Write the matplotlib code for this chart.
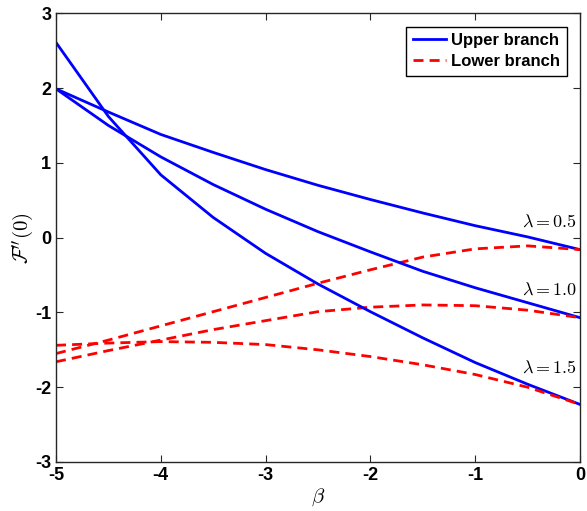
import numpy as np
import matplotlib
matplotlib.use("Agg")
import matplotlib.pyplot as plt

plt.rcParams['font.family'] = ['Liberation Sans', 'DejaVu Sans']
plt.rcParams['mathtext.fontset'] = 'cm'

beta = [-5, -4.5, -4, -3.5, -3, -2.5, -2, -1.5, -1, -0.5, 0]

# upper branch (solid blue)
upper_05 = [1.99, 1.68, 1.38, 1.14, 0.91, 0.70, 0.51, 0.33, 0.16, 0.01, -0.16]
upper_10 = [1.99, 1.50, 1.08, 0.71, 0.38, 0.08, -0.19, -0.45, -0.67, -0.87, -1.07]
upper_15 = [2.61, 1.62, 0.84, 0.27, -0.21, -0.62, -0.99, -1.34, -1.67, -1.96, -2.23]

# lower branch (dashed red)
lower_05 = [-1.55, -1.37, -1.18, -0.99, -0.80, -0.61, -0.43, -0.26, -0.15, -0.11, -0.16]
lower_10 = [-1.66, -1.51, -1.37, -1.23, -1.11, -0.99, -0.93, -0.90, -0.91, -0.97, -1.07]
lower_15 = [-1.44, -1.41, -1.39, -1.40, -1.43, -1.50, -1.59, -1.70, -1.83, -2.00, -2.23]

labels = [r'$\lambda = 0.5$', r'$\lambda = 1.0$', r'$\lambda = 1.5$']
label_y = [0.21, -0.71, -1.74]

fig = plt.figure(figsize=(5.87, 5.11), dpi=100)
ax = fig.add_axes([0.0954, 0.0959, 0.8926, 0.8781])

dash = (3.6, 2.2)
for i, (u, l) in enumerate(zip([upper_05, upper_10, upper_15], [lower_05, lower_10, lower_15])):
    ax.plot(beta, u, color='#0000ff', lw=2, label='Upper branch' if i == 0 else None)
    ax.plot(beta, l, color='#ff0000', lw=2, dashes=dash, label='Lower branch' if i == 0 else None)

for txt, yy in zip(labels, label_y):
    ax.text(-0.03, yy, txt, ha='right', va='center', fontsize=13)

ax.set_xlim(-5, 0)
ax.set_ylim(-3, 3)
ax.set_xticks([-5, -4, -3, -2, -1, 0])
ax.set_yticks([-3, -2, -1, 0, 1, 2, 3])
ax.set_xticklabels(['-5', '-4', '-3', '-2', '-1', '0'])
ax.set_yticklabels(['-3', '-2', '-1', '0', '1', '2', '3'])
ax.tick_params(direction='in', top=True, right=True, length=5, width=0.8,
               labelsize=13, color='#262626')
for t in ax.get_xticklabels() + ax.get_yticklabels():
    t.set_fontweight('bold')
for s in ax.spines.values():
    s.set_color('#262626')
    s.set_linewidth(1)

ax.set_xlabel(r'$\beta$', fontsize=15, labelpad=2)
ax.set_ylabel(r"$\mathcal{F}''(0)$", fontsize=15, labelpad=-1)

leg = ax.legend(loc='upper right', prop={'weight': 'bold', 'size': 12},
                fancybox=False, framealpha=1, edgecolor='black',
                handlelength=2.0, borderpad=0.4, labelspacing=0.35,
                handletextpad=0.3, borderaxespad=0.8)
leg.get_frame().set_linewidth(1)

fig.savefig('out.png', dpi=100)
